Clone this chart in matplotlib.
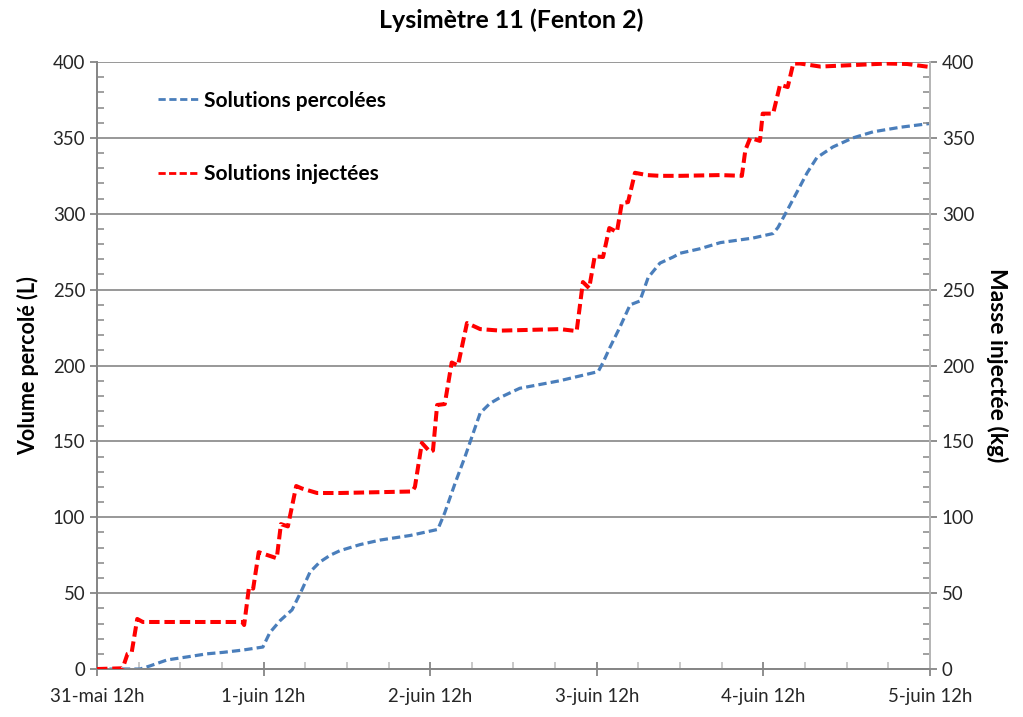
import matplotlib
matplotlib.use("Agg")
import matplotlib.pyplot as plt
from matplotlib.ticker import MultipleLocator, FixedLocator

plt.rcParams['font.family'] = ['Lato', 'DejaVu Sans']

# Time axis: hours elapsed since 31 May 12h
tick_hours = [0, 24, 48, 72, 96, 120]
tick_labels = ["31-mai 12h", "1-juin 12h", "2-juin 12h", "3-juin 12h", "4-juin 12h", "5-juin 12h"]

# Percolated volume (L)
perc_hours = [0, 6.2, 7.6, 10.1, 13.0, 15.8, 18.2, 21.0, 23.9, 24.9, 26.4, 28.1, 29.5,
              30.7, 32.1, 33.6, 35.0, 37.9, 40.8, 45.1, 49.1, 50.1, 51.6, 53.0, 54.5,
              55.2, 56.6, 58.1, 60.9, 66.7, 72.2, 72.9, 73.9, 75.3, 76.8, 78.2, 79.4,
              81.1, 83.0, 84.0, 86.9, 89.8, 94.5, 97.4, 98.1, 99.4, 100.8, 102.3,
              103.7, 106.0, 108.9, 111.8, 115.7, 120.0]
perc_volume = [0, 0, 2, 6, 8, 10, 11, 12.5, 14.5, 24, 32, 39, 52,
               64, 70.5, 75, 78, 82, 85, 88, 92, 103, 122.6, 139.7, 159.5,
               168.7, 175, 179, 185, 190, 196, 202, 212, 225, 240, 242.5, 258,
               267.5, 271.5, 274, 277, 281, 284, 287, 291, 302, 314, 327,
               337, 344, 350, 354, 357, 359.5]

# Injected mass (kg)
inj_hours = [0, 3.7, 4.4, 5.0, 5.8, 6.6, 20.9, 21.2, 21.9, 22.5, 23.3, 25.9, 26.5,
             27.5, 28.7, 29.5, 31.7, 35.0, 45.4, 45.8, 46.8, 48.0, 48.4, 49.0, 50.1,
             51.1, 52.0, 53.3, 55.2, 58.1, 66.7, 69.1, 70.0, 70.9, 71.7, 72.9, 73.8,
             74.9, 75.6, 76.5, 77.5, 79.2, 81.1, 84.0, 89.8, 92.9, 93.4, 94.1, 95.5,
             95.9, 97.4, 98.4, 99.5, 100.3, 101.3, 104.2, 108.9, 113.8, 116.7, 120.0]
inj_mass = [0, 0.5, 10, 11, 33, 31, 31, 29, 54, 53, 77, 73, 95.5,
            94, 120.6, 119, 116, 116, 117, 120, 149, 143, 144, 174, 174.6,
            202, 200, 228, 224, 223, 224, 222.7, 255, 251, 272, 271.5, 290.6,
            288, 307, 307.7, 327, 325.5, 325, 325, 325.5, 325, 342, 350, 348,
            366, 366, 385, 383.5, 399, 399, 397, 398, 399, 398.7, 396.7]

grey = "#868686"
tick_text = "#262626"

fig = plt.figure(figsize=(10.23, 7.17), dpi=100)
ax = fig.add_axes([0.0948, 0.0669, 0.8143, 0.8466])
ax2 = ax.twinx()

l1, = ax.plot(perc_hours, perc_volume, color="#4A7EBB", lw=2.3,
              dashes=(2.6, 1.3), label="Solutions percolées", zorder=3)
l2, = ax2.plot(inj_hours, inj_mass, color="#FF0000", lw=2.9,
               dashes=(2.6, 1.2), label="Solutions injectées", zorder=3)

for a in (ax, ax2):
    a.set_xlim(0, 120)
    a.set_ylim(0, 400)
    a.yaxis.set_major_locator(MultipleLocator(50))
    a.yaxis.set_minor_locator(MultipleLocator(10))
    a.spines['top'].set_visible(False)
    for s in a.spines.values():
        s.set_color(grey)
        s.set_linewidth(1.3)

ax.grid(axis='y', color=grey, lw=1.2, zorder=1)
ax.set_axisbelow(True)

ax.xaxis.set_major_locator(FixedLocator(tick_hours))
ax.set_xticklabels(tick_labels)
ax.xaxis.set_minor_locator(MultipleLocator(6))
ax.tick_params(axis='x', which='major', direction='inout', length=10, width=1.3,
               color=grey, labelsize=13.4, labelcolor=tick_text, pad=9)
ax.tick_params(axis='x', which='minor', direction='in', length=5, width=1.1, color="#BBBBBB")
ax.tick_params(axis='y', which='major', direction='out', length=5, width=1.3,
               color=grey, labelsize=13.4, labelcolor=tick_text)
ax.tick_params(axis='y', which='minor', direction='in', length=5, width=1.1, color=grey)
ax2.tick_params(axis='y', which='major', direction='out', length=5, width=1.3,
                color=grey, labelsize=13.4, labelcolor=tick_text)
ax2.tick_params(axis='y', which='minor', direction='in', length=5, width=1.1, color=grey)
ax2.spines['right'].set_color("#BBBBBB")

ax.set_ylabel("Volume percolé (L)", fontsize=15.5, fontweight='bold', labelpad=10)
ax2.set_ylabel("Masse injectée (kg)", fontsize=16.5, fontweight='bold',
               rotation=270, labelpad=24)
fig.suptitle("Lysimètre 11 (Fenton 2)", fontsize=18, fontweight='bold', y=0.988)

leg = ax2.legend(handles=[l1, l2], loc='center left', bbox_to_anchor=(0.073, 0.876),
                 frameon=False, borderpad=0, borderaxespad=0,
                 handlelength=2.0, handletextpad=0.2,
                 labelspacing=2.55, prop={'weight': 'bold', 'size': 15})
for h in leg.get_lines():
    h.set_linewidth(2.0)
leg.set_zorder(5)

fig.savefig("out.png", dpi=100)
